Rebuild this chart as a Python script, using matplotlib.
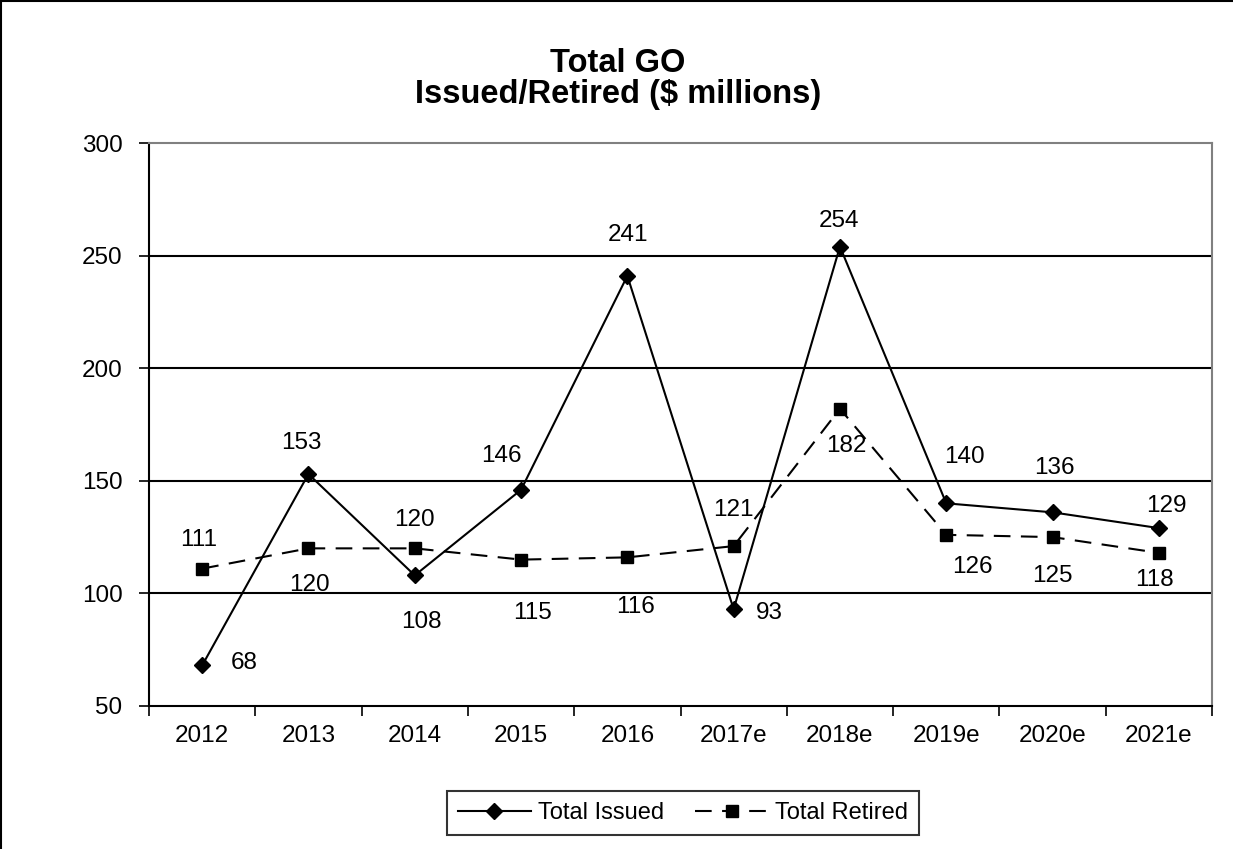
import matplotlib
matplotlib.use("Agg")
import matplotlib.pyplot as plt
from matplotlib.lines import Line2D

plt.rcParams['font.family'] = ['Liberation Sans', 'DejaVu Sans']

years = ['2012', '2013', '2014', '2015', '2016', '2017e', '2018e', '2019e', '2020e', '2021e']
issued = [68, 153, 108, 146, 241, 93, 254, 140, 136, 129]
retired = [111, 120, 120, 115, 116, 121, 182, 126, 125, 118]

# label offsets in pixels (dx right, dy up) as placed in the original
issued_off = [(42, 2), (-7, 31), (7, -47), (-20, 34), (1, 41),
              (36, -4), (-1, 26), (18, 46), (2, 44), (8, 22)]
retired_off = [(-4, 29), (1, -37), (0, 28), (11, -53), (8, -50),
               (0, 36), (6, -37), (26, -32), (0, -39), (-4, -27)]

fig = plt.figure(figsize=(12.33, 8.49), dpi=100)
ax = fig.add_axes([149 / 1233, 1 - 706 / 849, (1212 - 149) / 1233, (706 - 143) / 849])

x = [i + 0.5 for i in range(len(years))]

ax.plot(x, issued, '-', color='black', lw=1.5, marker='D', markersize=8,
        label='Total Issued', zorder=4)
ax.plot(x, retired, color='black', lw=1.5, dashes=(8, 5), marker='s', markersize=9,
        label='Total Retired', zorder=4)

for xi, v, (dx, dy) in zip(x, issued, issued_off):
    ax.annotate(str(v), (xi, v), xytext=(dx * 0.72, dy * 0.72), textcoords='offset points',
                ha='center', va='center', fontsize=17.5)
for xi, v, (dx, dy) in zip(x, retired, retired_off):
    ax.annotate(str(v), (xi, v), xytext=(dx * 0.72, dy * 0.72), textcoords='offset points',
                ha='center', va='center', fontsize=17.5)

ax.set_xlim(0, len(years))
ax.set_ylim(50, 300)
ax.set_yticks([50, 100, 150, 200, 250, 300])
ax.set_xticks(range(len(years) + 1))
ax.set_xticklabels([])
ax.set_xticks(x, minor=True)
ax.set_xticklabels(years, minor=True)
ax.tick_params(axis='x', which='minor', length=0, pad=14, labelsize=17.5)
ax.tick_params(axis='x', which='major', length=7, width=1.2, direction='out')
ax.tick_params(axis='y', length=7, width=1.2, direction='out', labelsize=17.5, pad=12)

for y in [100, 150, 200, 250]:
    ax.axhline(y, color='black', lw=1.5, zorder=1)

ax.spines['left'].set_linewidth(1.5)
ax.spines['bottom'].set_linewidth(1.5)
ax.spines['top'].set_color('#808080')
ax.spines['right'].set_color('#808080')
ax.spines['top'].set_linewidth(1.5)
ax.spines['right'].set_linewidth(1.5)

fig.text(618 / 1233, 1 - 79 / 849, 'Total GO\nIssued/Retired ($ millions)', ha='center',
         va='center', fontsize=23.5, fontweight='bold', linespacing=1.0)

leg = fig.legend(loc='center', bbox_to_anchor=(683 / 1233, 1 - 813 / 849), ncol=2,
                 fontsize=17, frameon=True, fancybox=False, handlelength=3.1,
                 handletextpad=0.3, columnspacing=1.3, borderpad=0.45,
                 borderaxespad=0)
leg.get_frame().set_edgecolor('black')
leg.get_frame().set_linewidth(1.5)

# outer chart frame (left and top edges visible)
fig.add_artist(Line2D([0.001, 0.001], [0, 1], transform=fig.transFigure, color='black', lw=1.5))
fig.add_artist(Line2D([0, 1], [0.999, 0.999], transform=fig.transFigure, color='black', lw=1.5))

fig.savefig('out.png', dpi=100)
